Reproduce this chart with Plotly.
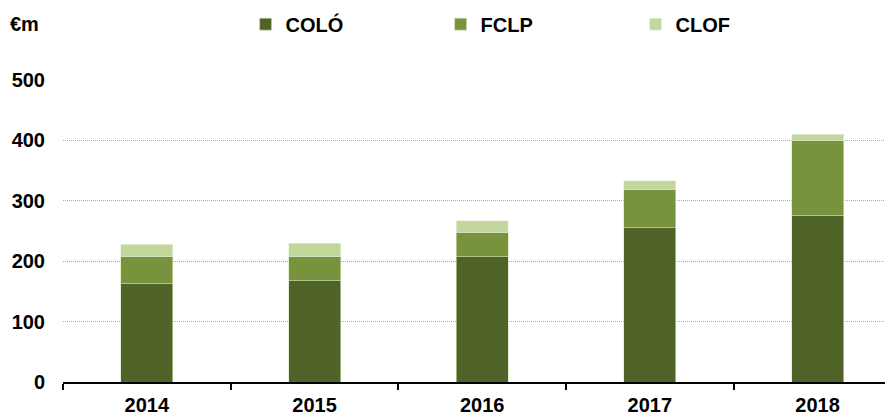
import plotly.graph_objects as go

years = ['2014', '2015', '2016', '2017', '2018']
colo = [163, 168, 207, 255, 275]
fclp = [45, 40, 41, 64, 125]
clof = [20, 22, 19, 14, 10]

font = dict(family='Arial, Liberation Sans, sans-serif', size=20, color='black', weight='bold')

fig = go.Figure()
fig.add_trace(go.Bar(x=years, y=colo, name='COLÓ', marker=dict(color='#4F6228', line=dict(color='#D7E4BD', width=0.6))))
fig.add_trace(go.Bar(x=years, y=fclp, name='FCLP', marker=dict(color='#77933C', line=dict(color='#D7E4BD', width=0.6))))
fig.add_trace(go.Bar(x=years, y=clof, name='CLOF', marker=dict(color='#C3D69B', line=dict(color='#EBF1DE', width=0.6))))

# page body adds an 8px margin, so the figure is sized 8px smaller
fig.update_layout(
    barmode='stack', bargap=0.69,
    width=885, height=410,
    margin=dict(l=55, r=0, t=72, b=36, autoexpand=False),
    paper_bgcolor='white', plot_bgcolor='white',
    font=font,
    legend=dict(orientation='h', x=0.22, xanchor='left', y=1.185, yanchor='middle',
                entrywidth=150, entrywidthmode='pixels', font=font, traceorder='normal'),
    showlegend=True,
)
fig.update_xaxes(type='category', range=[-0.5, 4.45], showline=True, linecolor='black', linewidth=2,
                 ticks='outside', tickson='boundaries', ticklen=6, tickwidth=2, tickcolor='black',
                 showgrid=False, tickfont=font, ticklabelstandoff=4, automargin=False)
fig.update_yaxes(range=[0, 500], dtick=100, showgrid=True, gridcolor='#ABABAB', griddash='1px,1px', gridwidth=1,
                 zeroline=False, showline=False, ticks='', ticklabelstandoff=17, tickfont=font, automargin=False)

fig.add_annotation(text='€m', xref='paper', yref='paper', x=-0.066, y=1.185, xanchor='left', yanchor='middle',
                   showarrow=False, font=font)

fig.write_html('out.html')
